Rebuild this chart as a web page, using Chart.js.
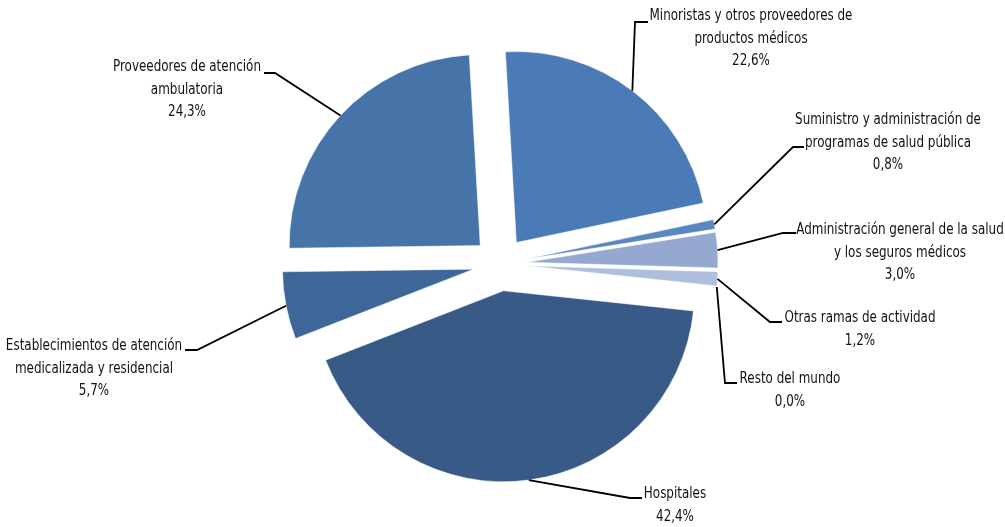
<!DOCTYPE html>
<html>
<head>
<meta charset="utf-8">
<script src="https://cdn.jsdelivr.net/npm/chart.js@4.4.1/dist/chart.umd.min.js"></script>
<style>
  html, body { margin: 0; padding: 0; background: #ffffff; }
  #wrap { width: 1005px; height: 527px; position: relative; }
</style>
</head>
<body>
<div id="wrap"><canvas id="pieChart"></canvas></div>
<script>
// Gasto en salud por proveedor - pie chart with exploded slices

const categories = [
    'Minoristas y otros proveedores de\nproductos médicos',
    'Suministro y administración de\nprogramas de salud pública',
    'Administración general de la salud\ny los seguros médicos',
    'Otras ramas de actividad',
    'Resto del mundo',
    'Hospitales',
    'Establecimientos de atención\nmedicalizada y residencial',
    'Proveedores de atención\nambulatoria'
];
const shares = [22.6, 0.8, 3.0, 1.2, 0.0, 42.4, 5.7, 24.3];
const sliceColors = ['#4a7bb6', '#5b87c1', '#95a9d0', '#adbfdc', '#c9d4e8', '#375a87', '#3e6699', '#4673a8'];

// label layout: elbow of leader, end of leader, text centre x, first line y
const labelLayout = [
    { elbow: [635, 22], end: [648, 22], tx: 751, ty: 16 },
    { elbow: [793, 147], end: [804, 147], tx: 888, ty: 120 },
    { elbow: [783, 233], end: [796, 233], tx: 900, ty: 230 },
    { elbow: [770, 322], end: [782, 322], tx: 860, ty: 318 },
    { elbow: [725, 383], end: [737, 383], tx: 790, ty: 379 },
    { elbow: [630, 498], end: [642, 498], tx: 675, ty: 494 },
    { elbow: [197, 350], end: [185, 350], tx: 94, ty: 346 },
    { elbow: [275, 73], end: [264, 73], tx: 187, ty: 67 }
];

const EXPLODE = 27;
const LINE_H = 22.5;
const FONT = "16px 'DejaVu Sans Condensed', 'Liberation Sans Narrow', sans-serif";
const TEXT_SQUEEZE = 0.83;

const explodePlugin = {
    id: 'explode',
    beforeDatasetDraw(chart, args) {
        const ctx = chart.ctx;
        args.meta.data.forEach(arc => {
            const mid = (arc.startAngle + arc.endAngle) / 2;
            ctx.save();
            ctx.translate(Math.cos(mid) * EXPLODE, Math.sin(mid) * EXPLODE);
            arc.draw(ctx);
            ctx.restore();
        });
        return false;
    }
};

const labelPlugin = {
    id: 'leaderLabels',
    afterDatasetsDraw(chart) {
        const ctx = chart.ctx;
        const arcs = chart.getDatasetMeta(0).data;
        ctx.save();
        ctx.font = FONT;
        ctx.fillStyle = '#111111';
        ctx.strokeStyle = '#000000';
        ctx.lineWidth = 1.8;
        ctx.textAlign = 'center';
        ctx.textBaseline = 'middle';
        arcs.forEach((arc, i) => {
            const mid = (arc.startAngle + arc.endAngle) / 2;
            const r = arc.outerRadius + EXPLODE;
            const ax = arc.x + Math.cos(mid) * r;
            const ay = arc.y + Math.sin(mid) * r;
            const lay = labelLayout[i];
            ctx.beginPath();
            ctx.moveTo(ax, ay);
            ctx.lineTo(lay.elbow[0], lay.elbow[1]);
            ctx.lineTo(lay.end[0], lay.end[1]);
            ctx.stroke();
            const lines = categories[i].split('\n');
            lines.push(shares[i].toFixed(1).replace('.', ',') + '%');
            lines.forEach((t, k) => {
                ctx.save();
                ctx.translate(lay.tx, lay.ty + k * LINE_H);
                ctx.scale(TEXT_SQUEEZE, 1);
                ctx.fillText(t, 0, 0);
                ctx.restore();
            });
        });
        ctx.restore();
    }
};

const pieCtx = document.getElementById('pieChart');
new Chart(pieCtx, {
    type: 'pie',
    data: {
        labels: categories,
        datasets: [{
            data: shares,
            backgroundColor: sliceColors,
            borderColor: '#ffffff',
            borderWidth: 0.5
        }]
    },
    options: {
        responsive: true,
        maintainAspectRatio: false,
        animation: false,
        rotation: -3.3,
        radius: 191,
        layout: {
            padding: { left: 0, right: 5, top: 1, bottom: 0 }
        },
        plugins: {
            legend: { display: false },
            tooltip: { enabled: false }
        }
    },
    plugins: [explodePlugin, labelPlugin]
});
</script>
</body>
</html>
